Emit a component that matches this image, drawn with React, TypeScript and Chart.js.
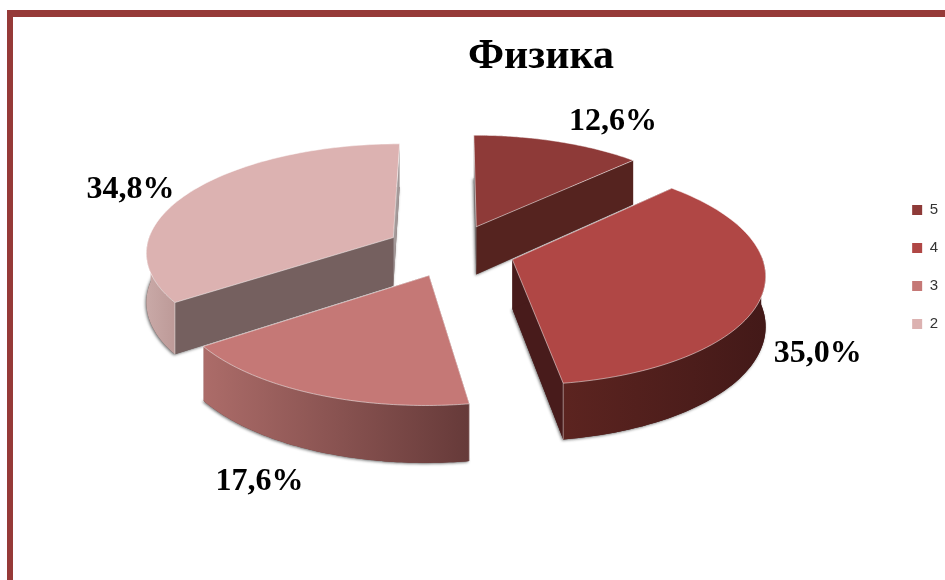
import React, { useEffect, useRef } from "react";
import { Chart, registerables } from "chart.js";

Chart.register(...registerables);

const categories = ["5", "4", "3", "2"];
const shares = [12.6, 35.0, 17.6, 34.8];
const titleText = "Физика";
const topColors = ["#8e3a38", "#b04745", "#c57876", "#dcb2b1"];
const firstWallColors = ["#777070", "#481b1b", "#6e4544", "#75605f"];
const lastWallColors = ["#55231f", "#481b1b", "#6e4544", "#a39999"];
const rimFrom = ["#55231f", "#5c2420", "#ac6c69", "#c9a9a7"];
const rimTo = ["#55231f", "#431918", "#663a39", "#bd9a98"];
const labelNudges = [[55, -20], [56, 58], [-54, 88], [-60, -2]];
const explodes = [0.25, 0.25, 0.24, 0.275];

const view = { cx: 453, cy: 251, rx: 248, ry: 108, persp: 0.12, depth: 49 };

const pie3d = {
  id: "pie3d",
  beforeDatasetsDraw(chart: any) {
    const { ctx } = chart;
    const arcs = chart.getDatasetMeta(0).data;
    const proj = (X: number, Y: number, d = 0) => {
      const w = 1 / (1 - view.persp * Y);
      return { x: view.cx + view.rx * X * w, y: view.cy + view.ry * Y * w + d * w };
    };
    const items = arcs.map((el: any, i: number) => {
      const mid = (el.startAngle + el.endAngle) / 2;
      return {
        i,
        a0: el.startAngle,
        a1: el.endAngle,
        mid,
        ox: Math.cos(mid) * explodes[i],
        oy: Math.sin(mid) * explodes[i],
      };
    });
    const order = [...items].sort((a: any, b: any) => a.oy - b.oy);
    const arcPts = (s: any, d: number) => {
      const pts = [];
      const n = 80;
      for (let k = 0; k <= n; k++) {
        const a = s.a0 + ((s.a1 - s.a0) * k) / n;
        pts.push(proj(s.ox + Math.cos(a), s.oy + Math.sin(a), d));
      }
      return pts;
    };
    const trace = (pts: any[]) => {
      ctx.beginPath();
      pts.forEach((p, k) => (k ? ctx.lineTo(p.x, p.y) : ctx.moveTo(p.x, p.y)));
      ctx.closePath();
    };
    ctx.save();
    ctx.lineJoin = "round";
    for (const s of order) {
      const top = arcPts(s, 0);
      const bot = arcPts(s, view.depth);
      const c0 = proj(s.ox, s.oy, 0);
      const c1 = proj(s.ox, s.oy, view.depth);
      const i = s.i;
      const last = top.length - 1;
      // soft ground shadow around the body
      ctx.save();
      ctx.shadowColor = "rgba(70,70,70,0.75)";
      ctx.shadowBlur = 3;
      ctx.shadowOffsetX = -1;
      ctx.shadowOffsetY = 1;
      ctx.fillStyle = firstWallColors[i];
      trace([c1, ...bot]);
      ctx.fill();
      ctx.restore();
      // radial walls
      ctx.fillStyle = lastWallColors[i];
      trace([c0, top[last], bot[last], c1]);
      ctx.fill();
      ctx.fillStyle = firstWallColors[i];
      trace([c0, top[0], bot[0], c1]);
      ctx.fill();
      // outer wall, only where it faces the viewer
      const vis = top.map((p: any, k: number) => ({ t: p, b: bot[k], a: s.a0 + ((s.a1 - s.a0) * k) / 80 }))
        .filter((q: any) => Math.sin(q.a) > -0.05);
      if (vis.length > 1) {
        const xs = vis.map((q: any) => q.t.x);
        const g = ctx.createLinearGradient(Math.min(...xs), 0, Math.max(...xs), 0);
        g.addColorStop(0, rimFrom[i]);
        g.addColorStop(1, rimTo[i]);
        ctx.fillStyle = g;
        trace([...vis.map((q: any) => q.t), ...[...vis].reverse().map((q: any) => q.b)]);
        ctx.fill();
      }
      // light edges between walls
      ctx.strokeStyle = "rgba(255,255,255,0.45)";
      ctx.lineWidth = 1;
      for (const k of [0, last]) {
        if (Math.sin(k ? s.a1 : s.a0) > -0.05) {
          ctx.beginPath();
          ctx.moveTo(top[k].x, top[k].y);
          ctx.lineTo(bot[k].x, bot[k].y);
          ctx.stroke();
        }
      }
      // top face
      trace([c0, ...top]);
      ctx.fillStyle = topColors[i];
      ctx.fill();
      ctx.strokeStyle = "rgba(255,255,255,0.5)";
      ctx.stroke();
    }
    // percentage labels
    ctx.fillStyle = "#000";
    ctx.font = 'bold 32px "Liberation Serif"';
    ctx.textAlign = "center";
    ctx.textBaseline = "middle";
    items.forEach((s: any) => {
      const p = proj(s.ox + Math.cos(s.mid), s.oy + Math.sin(s.mid));
      const text = shares[s.i].toFixed(1).replace(".", ",") + "%";
      ctx.fillText(text, p.x + labelNudges[s.i][0], p.y + labelNudges[s.i][1]);
    });
    ctx.restore();
    return false;
  },
};

export default function App() {
  const ref = useRef<HTMLCanvasElement>(null);
  useEffect(() => {
    const chart = new Chart(ref.current as HTMLCanvasElement, {
      type: "pie",
      data: {
        labels: categories,
        datasets: [{ data: shares, backgroundColor: topColors, borderWidth: 0 }],
      },
      options: {
        responsive: false,
        animation: false,
        layout: { padding: { left: 134, top: 32, right: -3, bottom: 78 } },
        plugins: {
          tooltip: { enabled: false },
          title: {
            display: true,
            text: titleText,
            color: "#000",
            font: { family: '"Liberation Serif"', size: 42, weight: "bold" },
            padding: { top: 0, bottom: 0 },
          },
          legend: {
            display: true,
            position: "right",
            labels: {
              boxWidth: 10,
              boxHeight: 10,
              padding: 23,
              color: "#333",
              font: { family: '"Liberation Sans"', size: 15 },
            },
          },
        },
      },
      plugins: [pie3d],
    } as any);
    return () => chart.destroy();
  }, []);
  return (
    <div style={{ position: "fixed", left: 0, top: 0, width: 945, height: 580, background: "#fff", overflow: "hidden" }}>
      <canvas ref={ref} width={945} height={580} style={{ position: "absolute", left: 0, top: 0 }} />
      <div
        style={{
          position: "absolute",
          left: 7,
          top: 10,
          width: 945,
          height: 580,
          borderTop: "7px solid #963a38",
          borderLeft: "6px solid #963a38",
          boxSizing: "content-box",
        }}
      />
    </div>
  );
}
